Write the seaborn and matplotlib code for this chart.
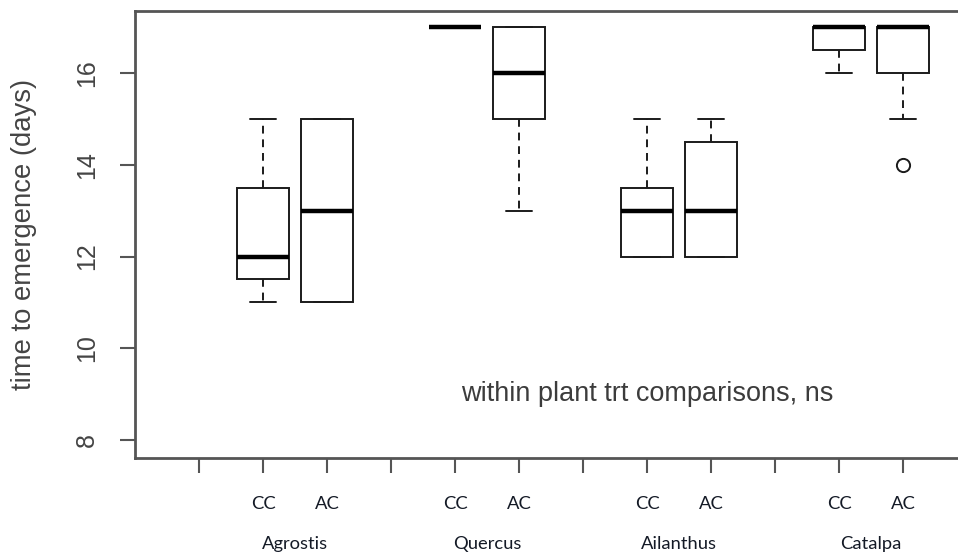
import matplotlib
matplotlib.use("Agg")
import matplotlib.pyplot as plt
import matplotlib.transforms as mtransforms
import pandas as pd
import seaborn as sns

# Emergence times (days) per species and treatment
species = ["Agrostis", "Quercus", "Ailanthus", "Catalpa"]
treatments = ["CC", "AC"]

agrostis_cc = [11, 11, 12, 12, 13, 14, 15]
agrostis_ac = [11, 11, 13, 15, 15]
quercus_cc = [17, 17, 17, 17, 17]
quercus_ac = [13, 15, 16, 17, 17]
ailanthus_cc = [12, 12, 12, 13, 13, 14, 15]
ailanthus_ac = [12, 12, 12, 13, 14, 15, 15]
catalpa_cc = [16, 16, 17, 17, 17, 17, 17]
catalpa_ac = [14, 15, 16, 16, 17, 17, 17, 17, 17]

y_ticks = [8, 10, 12, 14, 16]
y_label = "time to emergence (days)"
note = "within plant trt comparisons, ns"

observations = {
    ("Agrostis", "CC"): agrostis_cc,
    ("Agrostis", "AC"): agrostis_ac,
    ("Quercus", "CC"): quercus_cc,
    ("Quercus", "AC"): quercus_ac,
    ("Ailanthus", "CC"): ailanthus_cc,
    ("Ailanthus", "AC"): ailanthus_ac,
    ("Catalpa", "CC"): catalpa_cc,
    ("Catalpa", "AC"): catalpa_ac,
}

rows = [(sp, tr, v) for (sp, tr), vals in observations.items() for v in vals]
df = pd.DataFrame(rows, columns=["species", "trt", "days"])
df["group"] = df["species"] + " " + df["trt"]

# an empty slot in front of each species pair
order = []
for i, sp in enumerate(species):
    order.append(f"_gap{i}")
    order += [f"{sp} {t}" for t in treatments]

sns.set_theme(style="white")
plt.rcParams["font.family"] = ["Liberation Sans", "DejaVu Sans"]

fig = plt.figure(figsize=(9.58, 5.55), dpi=100)
ax = fig.add_axes([135 / 958, 97 / 555, 864 / 958, 447 / 555])

ink = "#1b1b1b"
sns.boxplot(
    data=df, x="group", y="days", order=order, ax=ax,
    width=0.8, color="white", saturation=1, linecolor=ink, linewidth=1.4,
    whis=1.5,
    whiskerprops=dict(linestyle=(0, (4, 3))),
    capprops=dict(linestyle="-"),
    medianprops=dict(linewidth=3.2, color="black"),
    flierprops=dict(marker="o", markersize=9.5, markerfacecolor="none",
                    markeredgecolor=ink, markeredgewidth=1.4),
)

ax.set_xlim(-1, len(order) + 0.5)
ax.set_ylim(7.61, 17.35)
ax.set_xlabel("")

# y axis: rotated tick labels in the classic style
ax.set_yticks(y_ticks)
ax.set_yticklabels([str(t) for t in y_ticks], rotation=90, va="center",
                   fontsize=18, color="#444444")
ax.set_ylabel(y_label, fontsize=19.8, color="#444444")
ax.yaxis.set_label_coords(-0.113, 0.5)

# x axis: a tick for every slot, labels only under the boxes
ax.set_xticks(range(len(order)))
ax.set_xticklabels(["" if g.startswith("_gap") else g.split()[-1] for g in order],
                   family=["Lato", "DejaVu Sans"], fontsize=13.2, color="#141a26")

frame = "#555555"
for side in ["left", "top", "bottom", "right"]:
    ax.spines[side].set_visible(True)
    ax.spines[side].set_color(frame)
    ax.spines[side].set_linewidth(2)
ax.tick_params(axis="both", which="major", direction="out", length=10.8,
               width=1.5, color=frame, left=True, bottom=True)
ax.tick_params(axis="y", pad=15)
ax.tick_params(axis="x", pad=16.5)

# species names centred under each pair
blend = mtransforms.blended_transform_factory(ax.transData, fig.transFigure)
for sp in species:
    mid = (order.index(f"{sp} CC") + order.index(f"{sp} AC")) / 2
    ax.text(mid, 0.011, sp, transform=blend, ha="center", va="baseline",
            family=["Lato", "DejaVu Sans"], fontsize=13.2, color="#141a26")

ax.text(order.index("Ailanthus CC"), 9, note, ha="center", va="center",
        fontsize=19.5, color="#3c3c3c")

fig.savefig("out.png", dpi=100)
